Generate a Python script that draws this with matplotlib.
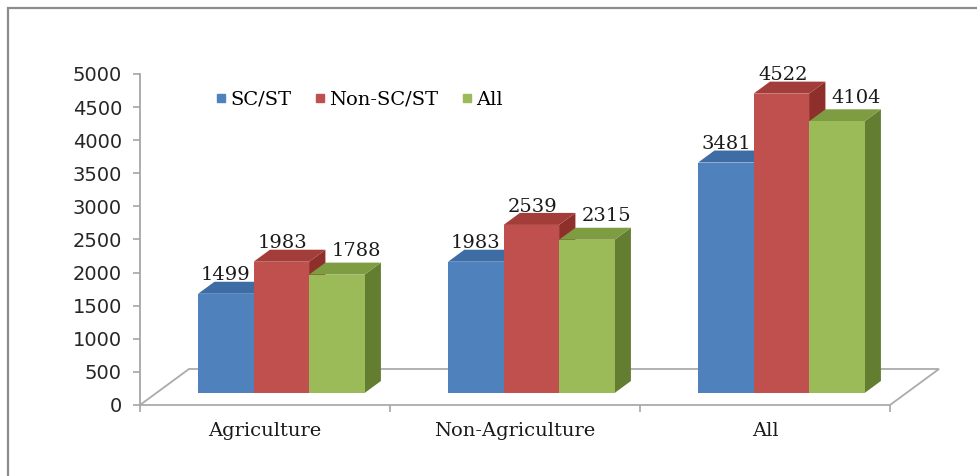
import numpy as np
import matplotlib.pyplot as plt
from matplotlib.patches import Polygon, Rectangle
from matplotlib.lines import Line2D

categories = ['Agriculture', 'Non-Agriculture', 'All']
series_names = ['SC/ST', 'Non-SC/ST', 'All']
sc_st = [1499, 1983, 3481]
non_sc_st = [1983, 2539, 4522]
all_castes = [1788, 2315, 4104]
y_ticks = [0, 500, 1000, 1500, 2000, 2500, 3000, 3500, 4000, 4500, 5000]

front_col = ['#4F81BD', '#C0504D', '#9BBB59']
top_col = ['#3E6CA4', '#A33D39', '#7E9C41']
side_col = ['#345A88', '#8E2F2B', '#637E31']

W, H = 977, 476
fig = plt.figure(figsize=(W / 100, H / 100), dpi=100)
fig.patch.set_facecolor('white')

# chart border (only top/left visible in the crop)
fig.patches.append(Rectangle((8 / W, -0.2), 1.2, 1.2 - 8 / H, transform=fig.transFigure,
                             fill=False, edgecolor='#8C8C8C', lw=1.6))

ax = fig.add_axes([140 / W, (H - 405) / H, 750 / W, 331 / H])
ax.set_xlim(-0.5, 2.5)
ax.set_ylim(0, 5000)

# oblique "3D" floor, depth vector in data units
fdx, fdy = 0.196, 544
floor = Polygon([(-0.5, 0), (2.5, 0), (2.5 + fdx, fdy), (-0.5 + fdx, fdy)], closed=True,
                fill=False, edgecolor='#ABABAB', lw=1.3, clip_on=False, zorder=1)
ax.add_patch(floor)

values = [sc_st, non_sc_st, all_castes]
w = 0.222
bdx, bdy = fdx / 3, fdy / 3
base = fdy / 3
lab_shift = [0.0, 0.1, 1.2]
lab_lift = [-40, -40, 40]

for i in range(len(categories)):
    for j, vals in enumerate(values):
        v = vals[i]
        x0 = i + fdx / 3 + (j - 1.5) * w
        z = 2 + j
        ax.bar(x0, v, width=w, bottom=base, align='edge', color=front_col[j],
               lw=0, zorder=z + 0.2)
        t = base + v
        ax.add_patch(Polygon([(x0, t), (x0 + w, t), (x0 + w + bdx, t + bdy), (x0 + bdx, t + bdy)],
                             closed=True, color=top_col[j], lw=0, zorder=z + 0.1, clip_on=False))
        ax.add_patch(Polygon([(x0 + w, base), (x0 + w + bdx, base + bdy),
                              (x0 + w + bdx, t + bdy), (x0 + w, t)],
                             closed=True, color=side_col[j], lw=0, zorder=z, clip_on=False))
        ax.text(x0 + w / 2 + bdx * lab_shift[j], t + bdy + lab_lift[j], str(v),
                ha='center', va='bottom', fontsize=14, family='DejaVu Serif',
                color='#1A1A1A', zorder=10)

for s in ['top', 'right', 'bottom']:
    ax.spines[s].set_visible(False)
ax.spines['left'].set_color('#A6A6A6')
ax.spines['left'].set_linewidth(1.3)

ax.set_yticks(y_ticks)
ax.tick_params(axis='y', direction='out', length=5, width=1.2, color='#A6A6A6',
               labelsize=14, labelcolor='#262626', pad=8)

ax.set_xticks(range(len(categories)))
ax.set_xticklabels(categories, family='DejaVu Serif', fontsize=14, color='#1A1A1A')
ax.set_xticks([-0.5, 0.5, 1.5, 2.5], minor=True)
ax.tick_params(axis='x', which='major', length=0, pad=12)
ax.tick_params(axis='x', which='minor', direction='out', length=5, width=1.2, color='#A6A6A6')

handles = [Line2D([], [], marker='s', ls='', markersize=6, color=c) for c in front_col]
ax.legend(handles, series_names, ncol=3, loc='center left', frameon=False,
          bbox_to_anchor=(206 / W, 1 - 100 / H), bbox_transform=fig.transFigure,
          prop={'family': 'DejaVu Serif', 'size': 14}, handlelength=0.5,
          handletextpad=0.25, columnspacing=1.2, borderpad=0)

fig.savefig('out.png', dpi=100, facecolor='white')
